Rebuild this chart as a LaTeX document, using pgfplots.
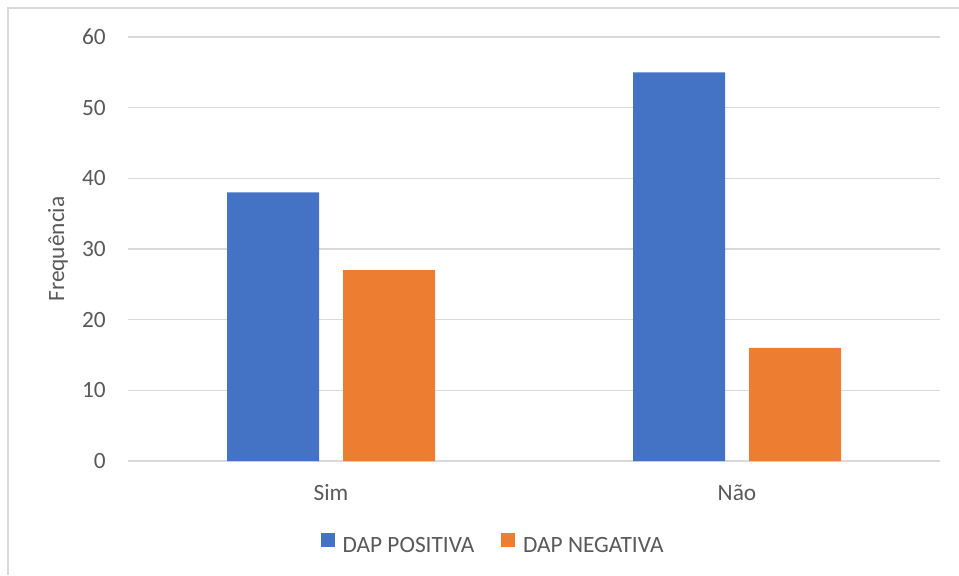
\documentclass[border=0pt]{standalone}
\usepackage{pgfplots}
\pgfplotsset{compat=1.18}
\usepackage{fontspec}
\setmainfont{Carlito}
\definecolor{txt}{HTML}{595959}
\definecolor{gridc}{HTML}{D9D9D9}
\definecolor{bblue}{HTML}{4472C4}
\definecolor{borange}{HTML}{ED7D31}
\begin{document}
\fontsize{17.5}{21}\selectfont
\begin{tikzpicture}
\useasboundingbox (0,0) rectangle (719.25pt,-431.25pt);
\draw[gridc, line width=1pt] (6pt,-431.25pt) -- (6pt,-6pt) -- (719.25pt,-6pt);
\begin{axis}[
  at={(96pt,-345.75pt)}, anchor=south west,
  scale only axis, width=609pt, height=318pt,
  xmin=-0.5, xmax=1.5, ymin=0, ymax=60,
  ytick={0,10,...,60}, xtick={0,1}, xticklabels={Sim,Não},
  ymajorgrids, grid style={gridc, line width=1pt},
  axis line style={draw=none}, major tick length=0pt,
  /pgf/number format/assume math mode=true,
  tick label style={font=\fontsize{17.5}{21}\selectfont, text=txt},
  yticklabel style={anchor=east, inner sep=0pt, xshift=-16.5pt},
  xticklabel style={anchor=base, inner sep=0pt, yshift=-29.25pt},
  ylabel={Frequência},
  ylabel style={at={(axis description cs:-0.0862,0.5)}, anchor=center, font=\fontsize{17.5}{21}\selectfont, text=txt},
  ybar=18pt, bar width=69pt,
  legend style={draw=none, at={(axis description cs:0.45,-0.2005)}, anchor=center,
    legend columns=2, font=\fontsize{17.5}{21}\selectfont, text=txt,
    /tikz/every odd column/.append style={column sep=4pt},
    /tikz/every even column/.append style={column sep=18pt}},
  legend image code/.code={\fill[#1] (0pt,-0.5pt) rectangle (10.5pt,10pt);},
]
\addplot[fill=bblue, draw=none] coordinates {(0,38) (1,55)};
\addplot[fill=borange, draw=none] coordinates {(0,27) (1,16)};
\legend{DAP POSITIVA, DAP NEGATIVA}
\end{axis}
\end{tikzpicture}
\end{document}
